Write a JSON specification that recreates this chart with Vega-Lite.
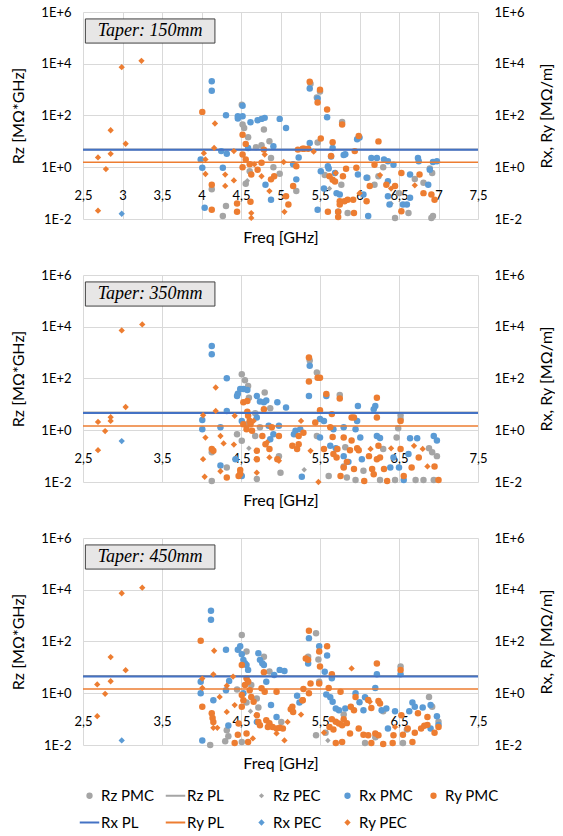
{
"$schema": "https://vega.github.io/schema/vega-lite/v6.json",
"padding": {"left": 10, "top": 6, "right": 0, "bottom": 0},
"background": "white",
"config": {
  "font": "Lato",
  "view": {"stroke": null},
  "axis": {"labelFont": "Lato", "titleFont": "Lato", "labelFontSize": 13, "titleFontSize": 16, "titleFontWeight": "normal", "labelColor": "#000000", "titleColor": "#000000", "domain": false, "ticks": false, "tickSize": 0, "gridColor": "#D9D9D9", "gridWidth": 1},
  "legend": {"orient": "none", "legendX": -1, "legendY": 776, "direction": "horizontal", "columns": 5, "gridAlign": "all", "columnPadding": 6, "rowPadding": 11, "labelFont": "Lato", "labelFontSize": 15, "labelColor": "#000000", "symbolOpacity": 1, "symbolSize": 380, "labelOffset": 4}
},
"datasets": {
"lines": [
{"p":1,"s":"Rz PL","v":4.9},{"p":1,"s":"Rx PL","v":4.7},{"p":1,"s":"Ry PL","v":1.55},
{"p":2,"s":"Rz PL","v":4.8},{"p":2,"s":"Rx PL","v":4.6},{"p":2,"s":"Ry PL","v":1.45},
{"p":3,"s":"Rz PL","v":4.6},{"p":3,"s":"Rx PL","v":4.45},{"p":3,"s":"Ry PL","v":1.45}
],
"pts": [
{"p":1,"s":"Rz PMC","f":4.51,"v":260},{"p":1,"s":"Rz PMC","f":4.52,"v":45},{"p":1,"s":"Rz PMC","f":4.54,"v":33},{"p":1,"s":"Rz PMC","f":4.59,"v":14.5},{"p":1,"s":"Rz PMC","f":4.79,"v":29},{"p":1,"s":"Rz PMC","f":4.86,"v":10.2},{"p":1,"s":"Rz PMC","f":4.76,"v":7.1},{"p":1,"s":"Rz PMC","f":4.69,"v":5.9},{"p":1,"s":"Rz PMC","f":4.88,"v":2.3},{"p":1,"s":"Rz PMC","f":4.91,"v":1.0},{"p":1,"s":"Rz PMC","f":4.99,"v":0.56},{"p":1,"s":"Rz PMC","f":4.56,"v":0.23},{"p":1,"s":"Rz PMC","f":4.13,"v":0.14},{"p":1,"s":"Rz PMC","f":4.31,"v":0.032},{"p":1,"s":"Rz PMC","f":4.27,"v":0.013},{"p":1,"s":"Rz PMC","f":5.2,"v":0.12},{"p":1,"s":"Rz PMC","f":4.61,"v":0.7},{"p":1,"s":"Rz PMC","f":5.38,"v":1700},{"p":1,"s":"Rz PMC","f":5.5,"v":850},{"p":1,"s":"Rz PMC","f":5.46,"v":500},{"p":1,"s":"Rz PMC","f":5.78,"v":56},{"p":1,"s":"Rz PMC","f":6.1,"v":0.39},{"p":1,"s":"Rz PMC","f":6.24,"v":0.45},{"p":1,"s":"Rz PMC","f":5.77,"v":0.21},{"p":1,"s":"Rz PMC","f":6.19,"v":0.21},{"p":1,"s":"Rz PMC","f":6.81,"v":0.25},{"p":1,"s":"Rz PMC","f":6.62,"v":0.017},{"p":1,"s":"Rz PMC","f":5.85,"v":0.017},{"p":1,"s":"Rz PMC","f":6.45,"v":0.011},{"p":1,"s":"Rz PMC","f":6.91,"v":0.011},{"p":1,"s":"Rz PMC","f":6.92,"v":0.6},{"p":1,"s":"Rz PMC","f":6.93,"v":0.013},{"p":1,"s":"Rz PMC","f":6.89,"v":0.9},{"p":1,"s":"Rz PMC","f":5.47,"v":9},{"p":1,"s":"Rz PMC","f":5.56,"v":0.5},{"p":1,"s":"Rz PMC","f":6.3,"v":1.0},{"p":1,"s":"Rz PMC","f":6.5,"v":0.1},{"p":1,"s":"Rz PMC","f":6.7,"v":0.35},
{"p":1,"s":"Rz PEC","f":4.58,"v":0.3},{"p":1,"s":"Rz PEC","f":5.62,"v":0.15},{"p":1,"s":"Rz PEC","f":6.4,"v":0.04},
{"p":1,"s":"Rx PMC","f":4.13,"v":2090},{"p":1,"s":"Rx PMC","f":4.13,"v":910},{"p":1,"s":"Rx PMC","f":4.31,"v":102},{"p":1,"s":"Rx PMC","f":4.46,"v":93},{"p":1,"s":"Rx PMC","f":4.46,"v":76},{"p":1,"s":"Rx PMC","f":4.52,"v":240},{"p":1,"s":"Rx PMC","f":4.52,"v":93},{"p":1,"s":"Rx PMC","f":4.62,"v":55},{"p":1,"s":"Rx PMC","f":4.71,"v":66},{"p":1,"s":"Rx PMC","f":4.76,"v":74},{"p":1,"s":"Rx PMC","f":4.8,"v":81},{"p":1,"s":"Rx PMC","f":4.99,"v":74},{"p":1,"s":"Rx PMC","f":5.07,"v":33},{"p":1,"s":"Rx PMC","f":3.99,"v":2.0},{"p":1,"s":"Rx PMC","f":4.01,"v":0.95},{"p":1,"s":"Rx PMC","f":4.25,"v":4.2},{"p":1,"s":"Rx PMC","f":4.32,"v":3.3},{"p":1,"s":"Rx PMC","f":4.27,"v":0.95},{"p":1,"s":"Rx PMC","f":4.04,"v":0.027},{"p":1,"s":"Rx PMC","f":4.59,"v":5.6},{"p":1,"s":"Rx PMC","f":4.91,"v":6.5},{"p":1,"s":"Rx PMC","f":4.81,"v":0.21},{"p":1,"s":"Rx PMC","f":4.88,"v":0.056},{"p":1,"s":"Rx PMC","f":5.16,"v":1.3},{"p":1,"s":"Rx PMC","f":5.2,"v":0.34},{"p":1,"s":"Rx PMC","f":5.23,"v":2.4},
{"p":1,"s":"Rx PMC","f":5.37,"v":1100},{"p":1,"s":"Rx PMC","f":5.47,"v":450},{"p":1,"s":"Rx PMC","f":5.59,"v":85},{"p":1,"s":"Rx PMC","f":5.97,"v":12},{"p":1,"s":"Rx PMC","f":6.0,"v":14},{"p":1,"s":"Rx PMC","f":5.37,"v":8.7},{"p":1,"s":"Rx PMC","f":5.66,"v":5.6},{"p":1,"s":"Rx PMC","f":5.64,"v":2.6},{"p":1,"s":"Rx PMC","f":5.82,"v":3.2},{"p":1,"s":"Rx PMC","f":5.8,"v":3.0},{"p":1,"s":"Rx PMC","f":6.15,"v":2.3},{"p":1,"s":"Rx PMC","f":6.22,"v":2.3},{"p":1,"s":"Rx PMC","f":6.31,"v":2.0},{"p":1,"s":"Rx PMC","f":6.36,"v":1.7},{"p":1,"s":"Rx PMC","f":6.43,"v":1.26},{"p":1,"s":"Rx PMC","f":6.74,"v":2.3},{"p":1,"s":"Rx PMC","f":6.75,"v":1.7},{"p":1,"s":"Rx PMC","f":6.89,"v":0.8},{"p":1,"s":"Rx PMC","f":5.6,"v":1.1},{"p":1,"s":"Rx PMC","f":5.61,"v":0.9},{"p":1,"s":"Rx PMC","f":5.69,"v":0.6},{"p":1,"s":"Rx PMC","f":5.98,"v":0.52},{"p":1,"s":"Rx PMC","f":6.09,"v":0.39},{"p":1,"s":"Rx PMC","f":6.36,"v":0.29},{"p":1,"s":"Rx PMC","f":6.64,"v":0.52},{"p":1,"s":"Rx PMC","f":6.87,"v":0.21},{"p":1,"s":"Rx PMC","f":5.71,"v":0.1},{"p":1,"s":"Rx PMC","f":5.75,"v":0.089},{"p":1,"s":"Rx PMC","f":6.05,"v":0.089},{"p":1,"s":"Rx PMC","f":6.36,"v":0.076},{"p":1,"s":"Rx PMC","f":6.38,"v":0.036},{"p":1,"s":"Rx PMC","f":6.55,"v":0.036},{"p":1,"s":"Rx PMC","f":6.6,"v":0.036},{"p":1,"s":"Rx PMC","f":6.64,"v":0.066},{"p":1,"s":"Rx PMC","f":5.47,"v":0.023},{"p":1,"s":"Rx PMC","f":5.73,"v":0.019},{"p":1,"s":"Rx PMC","f":6.11,"v":0.013},{"p":1,"s":"Rx PMC","f":6.98,"v":1.7},{"p":1,"s":"Rx PMC","f":6.93,"v":1.6},{"p":1,"s":"Rx PMC","f":5.51,"v":0.7},{"p":1,"s":"Rx PMC","f":5.55,"v":0.15},
{"p":1,"s":"Ry PMC","f":4.01,"v":138},{"p":1,"s":"Ry PMC","f":4.52,"v":18},{"p":1,"s":"Ry PMC","f":4.56,"v":8},{"p":1,"s":"Ry PMC","f":4.52,"v":3.1},{"p":1,"s":"Ry PMC","f":4.56,"v":2.0},{"p":1,"s":"Ry PMC","f":4.52,"v":1.0},{"p":1,"s":"Ry PMC","f":4.61,"v":1.3},{"p":1,"s":"Ry PMC","f":4.63,"v":0.52},{"p":1,"s":"Ry PMC","f":4.71,"v":0.8},{"p":1,"s":"Ry PMC","f":4.76,"v":1.5},{"p":1,"s":"Ry PMC","f":4.79,"v":4.8},{"p":1,"s":"Ry PMC","f":4.92,"v":0.45},{"p":1,"s":"Ry PMC","f":4.88,"v":0.34},{"p":1,"s":"Ry PMC","f":4.13,"v":0.21},{"p":1,"s":"Ry PMC","f":4.13,"v":0.023},{"p":1,"s":"Ry PMC","f":4.45,"v":0.04},{"p":1,"s":"Ry PMC","f":4.45,"v":0.019},{"p":1,"s":"Ry PMC","f":4.62,"v":0.046},{"p":1,"s":"Ry PMC","f":5.16,"v":0.19},{"p":1,"s":"Ry PMC","f":5.07,"v":0.076},{"p":1,"s":"Ry PMC","f":5.1,"v":0.036},{"p":1,"s":"Ry PMC","f":5.22,"v":4.8},{"p":1,"s":"Ry PMC","f":5.28,"v":5.2},
{"p":1,"s":"Ry PMC","f":5.37,"v":2000},{"p":1,"s":"Ry PMC","f":5.5,"v":1000},{"p":1,"s":"Ry PMC","f":5.47,"v":320},{"p":1,"s":"Ry PMC","f":5.59,"v":170},{"p":1,"s":"Ry PMC","f":5.78,"v":45},{"p":1,"s":"Ry PMC","f":5.99,"v":16},{"p":1,"s":"Ry PMC","f":6.24,"v":10},{"p":1,"s":"Ry PMC","f":5.51,"v":13},{"p":1,"s":"Ry PMC","f":5.3,"v":5.2},{"p":1,"s":"Ry PMC","f":5.35,"v":5.2},{"p":1,"s":"Ry PMC","f":5.66,"v":9.3},{"p":1,"s":"Ry PMC","f":5.64,"v":2.7},{"p":1,"s":"Ry PMC","f":5.94,"v":4.2},{"p":1,"s":"Ry PMC","f":5.2,"v":1.1},{"p":1,"s":"Ry PMC","f":6.19,"v":1.26},{"p":1,"s":"Ry PMC","f":5.83,"v":0.87},{"p":1,"s":"Ry PMC","f":5.96,"v":0.96},{"p":1,"s":"Ry PMC","f":5.62,"v":0.45},{"p":1,"s":"Ry PMC","f":5.66,"v":0.33},{"p":1,"s":"Ry PMC","f":5.69,"v":0.28},{"p":1,"s":"Ry PMC","f":5.79,"v":0.45},{"p":1,"s":"Ry PMC","f":6.13,"v":0.19},{"p":1,"s":"Ry PMC","f":6.34,"v":0.21},{"p":1,"s":"Ry PMC","f":6.45,"v":0.19},{"p":1,"s":"Ry PMC","f":5.81,"v":0.049},{"p":1,"s":"Ry PMC","f":5.85,"v":0.056},{"p":1,"s":"Ry PMC","f":5.92,"v":0.056},{"p":1,"s":"Ry PMC","f":5.75,"v":0.049},{"p":1,"s":"Ry PMC","f":5.75,"v":0.036},{"p":1,"s":"Ry PMC","f":6.09,"v":0.049},{"p":1,"s":"Ry PMC","f":6.53,"v":0.6},{"p":1,"s":"Ry PMC","f":6.76,"v":0.52},{"p":1,"s":"Ry PMC","f":6.53,"v":0.02},{"p":1,"s":"Ry PMC","f":6.81,"v":0.1},{"p":1,"s":"Ry PMC","f":6.91,"v":0.089},{"p":1,"s":"Ry PMC","f":5.6,"v":0.019},{"p":1,"s":"Ry PMC","f":5.73,"v":0.019},{"p":1,"s":"Ry PMC","f":5.73,"v":0.012},{"p":1,"s":"Ry PMC","f":5.93,"v":0.017},{"p":1,"s":"Ry PMC","f":6.95,"v":0.056},
{"p":1,"s":"Rx PEC","f":2.99,"v":0.016},
{"p":1,"s":"Ry PEC","f":2.69,"v":0.021},{"p":1,"s":"Ry PEC","f":2.69,"v":2.4},{"p":1,"s":"Ry PEC","f":2.79,"v":0.85},{"p":1,"s":"Ry PEC","f":2.85,"v":27},{"p":1,"s":"Ry PEC","f":2.85,"v":3.3},{"p":1,"s":"Ry PEC","f":2.99,"v":7400},{"p":1,"s":"Ry PEC","f":3.04,"v":8.1},{"p":1,"s":"Ry PEC","f":3.24,"v":13000},{"p":1,"s":"Ry PEC","f":4.17,"v":49},{"p":1,"s":"Ry PEC","f":4.16,"v":5.6},{"p":1,"s":"Ry PEC","f":4.03,"v":3.5},{"p":1,"s":"Ry PEC","f":4.05,"v":2.0},{"p":1,"s":"Ry PEC","f":4.05,"v":0.55},{"p":1,"s":"Ry PEC","f":4.41,"v":4.2},{"p":1,"s":"Ry PEC","f":4.3,"v":0.52},{"p":1,"s":"Ry PEC","f":4.3,"v":0.19},{"p":1,"s":"Ry PEC","f":4.41,"v":0.31},{"p":1,"s":"Ry PEC","f":4.63,"v":0.017},{"p":1,"s":"Ry PEC","f":4.63,"v":0.011},{"p":1,"s":"Ry PEC","f":4.86,"v":0.12},{"p":1,"s":"Ry PEC","f":5.04,"v":1.6},{"p":1,"s":"Ry PEC","f":4.8,"v":3.1},{"p":1,"s":"Ry PEC","f":5.05,"v":0.019},{"p":1,"s":"Ry PEC","f":4.67,"v":1.3},{"p":1,"s":"Ry PEC","f":4.76,"v":0.45},{"p":1,"s":"Ry PEC","f":5.42,"v":4.0},{"p":1,"s":"Ry PEC","f":5.7,"v":0.6},{"p":1,"s":"Ry PEC","f":6.26,"v":0.5},{"p":1,"s":"Ry PEC","f":6.4,"v":0.15},{"p":1,"s":"Ry PEC","f":6.7,"v":0.2},{"p":1,"s":"Ry PEC","f":6.0,"v":0.1},

{"p":2,"s":"Rz PMC","f":4.51,"v":145},{"p":2,"s":"Rz PMC","f":4.55,"v":85},{"p":2,"s":"Rz PMC","f":4.59,"v":51},{"p":2,"s":"Rz PMC","f":4.6,"v":18},{"p":2,"s":"Rz PMC","f":4.8,"v":29},{"p":2,"s":"Rz PMC","f":4.87,"v":7.1},{"p":2,"s":"Rz PMC","f":4.68,"v":4.5},{"p":2,"s":"Rz PMC","f":4.45,"v":0.7},{"p":2,"s":"Rz PMC","f":4.51,"v":0.39},{"p":2,"s":"Rz PMC","f":4.58,"v":1.7},{"p":2,"s":"Rz PMC","f":4.68,"v":0.6},{"p":2,"s":"Rz PMC","f":4.74,"v":1.3},{"p":2,"s":"Rz PMC","f":4.13,"v":0.14},{"p":2,"s":"Rz PMC","f":4.32,"v":0.036},{"p":2,"s":"Rz PMC","f":4.13,"v":0.011},{"p":2,"s":"Rz PMC","f":4.98,"v":0.1},{"p":2,"s":"Rz PMC","f":5.0,"v":0.023},{"p":2,"s":"Rz PMC","f":4.7,"v":0.013},{"p":2,"s":"Rz PMC","f":5.37,"v":500},{"p":2,"s":"Rz PMC","f":5.46,"v":170},{"p":2,"s":"Rz PMC","f":5.75,"v":23},{"p":2,"s":"Rz PMC","f":6.52,"v":3.8},{"p":2,"s":"Rz PMC","f":6.52,"v":2.7},{"p":2,"s":"Rz PMC","f":6.49,"v":1.2},{"p":2,"s":"Rz PMC","f":5.46,"v":0.6},{"p":2,"s":"Rz PMC","f":6.47,"v":0.52},{"p":2,"s":"Rz PMC","f":5.82,"v":0.22},{"p":2,"s":"Rz PMC","f":6.3,"v":0.19},{"p":2,"s":"Rz PMC","f":6.88,"v":0.2},{"p":2,"s":"Rz PMC","f":6.92,"v":0.14},{"p":2,"s":"Rz PMC","f":5.8,"v":0.04},{"p":2,"s":"Rz PMC","f":6.05,"v":0.027},{"p":2,"s":"Rz PMC","f":5.84,"v":0.015},{"p":2,"s":"Rz PMC","f":5.95,"v":0.012},{"p":2,"s":"Rz PMC","f":6.26,"v":0.012},{"p":2,"s":"Rz PMC","f":6.45,"v":0.012},{"p":2,"s":"Rz PMC","f":6.71,"v":0.012},{"p":2,"s":"Rz PMC","f":6.81,"v":0.012},{"p":2,"s":"Rz PMC","f":6.94,"v":0.012},{"p":2,"s":"Rz PMC","f":5.61,"v":0.017},{"p":2,"s":"Rz PMC","f":6.98,"v":0.1},
{"p":2,"s":"Rz PEC","f":5.3,"v":0.03},{"p":2,"s":"Rz PEC","f":4.6,"v":0.2},
{"p":2,"s":"Rx PMC","f":4.13,"v":1800},{"p":2,"s":"Rx PMC","f":4.13,"v":870},{"p":2,"s":"Rx PMC","f":4.32,"v":102},{"p":2,"s":"Rx PMC","f":4.45,"v":21},{"p":2,"s":"Rx PMC","f":4.49,"v":39},{"p":2,"s":"Rx PMC","f":4.53,"v":39},{"p":2,"s":"Rx PMC","f":4.58,"v":36},{"p":2,"s":"Rx PMC","f":4.46,"v":26},{"p":2,"s":"Rx PMC","f":4.7,"v":21},{"p":2,"s":"Rx PMC","f":4.74,"v":13},{"p":2,"s":"Rx PMC","f":4.79,"v":12},{"p":2,"s":"Rx PMC","f":4.82,"v":14},{"p":2,"s":"Rx PMC","f":4.96,"v":12},{"p":2,"s":"Rx PMC","f":5.07,"v":7.6},{"p":2,"s":"Rx PMC","f":4.32,"v":5.6},{"p":2,"s":"Rx PMC","f":4.01,"v":2.5},{"p":2,"s":"Rx PMC","f":4.01,"v":1.1},{"p":2,"s":"Rx PMC","f":4.24,"v":1.3},{"p":2,"s":"Rx PMC","f":4.51,"v":2.3},{"p":2,"s":"Rx PMC","f":4.7,"v":3.1},{"p":2,"s":"Rx PMC","f":4.85,"v":1.5},{"p":2,"s":"Rx PMC","f":4.87,"v":0.45},{"p":2,"s":"Rx PMC","f":4.98,"v":1.5},{"p":2,"s":"Rx PMC","f":5.17,"v":0.7},{"p":2,"s":"Rx PMC","f":5.19,"v":0.95},{"p":2,"s":"Rx PMC","f":4.91,"v":0.7},{"p":2,"s":"Rx PMC","f":4.24,"v":0.043},{"p":2,"s":"Rx PMC","f":4.51,"v":0.017},{"p":2,"s":"Rx PMC","f":4.43,"v":0.076},{"p":2,"s":"Rx PMC","f":5.27,"v":0.016},
{"p":2,"s":"Rx PMC","f":5.37,"v":310},{"p":2,"s":"Rx PMC","f":5.36,"v":21},{"p":2,"s":"Rx PMC","f":5.58,"v":21},{"p":2,"s":"Rx PMC","f":5.98,"v":8.7},{"p":2,"s":"Rx PMC","f":6.2,"v":8.7},{"p":2,"s":"Rx PMC","f":6.18,"v":6.5},{"p":2,"s":"Rx PMC","f":5.5,"v":2.7},{"p":2,"s":"Rx PMC","f":5.55,"v":2.3},{"p":2,"s":"Rx PMC","f":5.67,"v":1.1},{"p":2,"s":"Rx PMC","f":5.8,"v":1.3},{"p":2,"s":"Rx PMC","f":5.95,"v":1.1},{"p":2,"s":"Rx PMC","f":5.97,"v":2.3},{"p":2,"s":"Rx PMC","f":5.5,"v":0.52},{"p":2,"s":"Rx PMC","f":6.01,"v":0.52},{"p":2,"s":"Rx PMC","f":6.22,"v":0.6},{"p":2,"s":"Rx PMC","f":6.26,"v":0.5},{"p":2,"s":"Rx PMC","f":6.64,"v":0.49},{"p":2,"s":"Rx PMC","f":6.73,"v":0.49},{"p":2,"s":"Rx PMC","f":6.94,"v":0.6},{"p":2,"s":"Rx PMC","f":5.63,"v":0.25},{"p":2,"s":"Rx PMC","f":5.8,"v":0.1},{"p":2,"s":"Rx PMC","f":5.86,"v":0.06},{"p":2,"s":"Rx PMC","f":6.03,"v":0.076},{"p":2,"s":"Rx PMC","f":6.43,"v":0.089},{"p":2,"s":"Rx PMC","f":6.62,"v":0.12},{"p":2,"s":"Rx PMC","f":6.39,"v":0.036},{"p":2,"s":"Rx PMC","f":6.5,"v":0.036},{"p":2,"s":"Rx PMC","f":6.56,"v":0.012},{"p":2,"s":"Rx PMC","f":5.7,"v":0.2},{"p":2,"s":"Rx PMC","f":6.98,"v":0.4},{"p":2,"s":"Rx PMC","f":5.25,"v":1.1},
{"p":2,"s":"Ry PMC","f":4.53,"v":12},{"p":2,"s":"Ry PMC","f":4.58,"v":13.5},{"p":2,"s":"Ry PMC","f":4.58,"v":5.2},{"p":2,"s":"Ry PMC","f":4.59,"v":3.6},{"p":2,"s":"Ry PMC","f":4.61,"v":2.3},{"p":2,"s":"Ry PMC","f":4.62,"v":1.7},{"p":2,"s":"Ry PMC","f":4.79,"v":6.5},{"p":2,"s":"Ry PMC","f":4.53,"v":1.7},{"p":2,"s":"Ry PMC","f":4.57,"v":1.1},{"p":2,"s":"Ry PMC","f":4.64,"v":0.95},{"p":2,"s":"Ry PMC","f":4.77,"v":0.6},{"p":2,"s":"Ry PMC","f":4.81,"v":0.29},{"p":2,"s":"Ry PMC","f":4.89,"v":1.3},{"p":2,"s":"Ry PMC","f":4.98,"v":0.6},{"p":2,"s":"Ry PMC","f":4.86,"v":0.19},{"p":2,"s":"Ry PMC","f":4.7,"v":0.16},{"p":2,"s":"Ry PMC","f":4.7,"v":0.076},{"p":2,"s":"Ry PMC","f":4.13,"v":0.19},{"p":2,"s":"Ry PMC","f":4.15,"v":0.16},{"p":2,"s":"Ry PMC","f":4.49,"v":0.029},{"p":2,"s":"Ry PMC","f":4.49,"v":0.021},{"p":2,"s":"Ry PMC","f":4.32,"v":0.015},{"p":2,"s":"Ry PMC","f":4.47,"v":0.017},{"p":2,"s":"Ry PMC","f":4.96,"v":0.076},{"p":2,"s":"Ry PMC","f":5.15,"v":0.25},{"p":2,"s":"Ry PMC","f":5.21,"v":0.19},{"p":2,"s":"Ry PMC","f":5.29,"v":0.8},
{"p":2,"s":"Ry PMC","f":5.36,"v":650},{"p":2,"s":"Ry PMC","f":5.5,"v":107},{"p":2,"s":"Ry PMC","f":5.47,"v":107},{"p":2,"s":"Ry PMC","f":5.36,"v":76},{"p":2,"s":"Ry PMC","f":5.58,"v":25},{"p":2,"s":"Ry PMC","f":5.75,"v":17},{"p":2,"s":"Ry PMC","f":6.22,"v":18},{"p":2,"s":"Ry PMC","f":5.5,"v":5.9},{"p":2,"s":"Ry PMC","f":5.44,"v":2.0},{"p":2,"s":"Ry PMC","f":5.65,"v":4.2},{"p":2,"s":"Ry PMC","f":5.63,"v":1.3},{"p":2,"s":"Ry PMC","f":5.9,"v":3.1},{"p":2,"s":"Ry PMC","f":5.93,"v":3.1},{"p":2,"s":"Ry PMC","f":6.22,"v":3.1},{"p":2,"s":"Ry PMC","f":6.52,"v":2.3},{"p":2,"s":"Ry PMC","f":5.23,"v":0.6},{"p":2,"s":"Ry PMC","f":5.66,"v":0.55},{"p":2,"s":"Ry PMC","f":5.8,"v":0.52},{"p":2,"s":"Ry PMC","f":5.9,"v":0.4},{"p":2,"s":"Ry PMC","f":5.23,"v":0.29},{"p":2,"s":"Ry PMC","f":5.55,"v":0.19},{"p":2,"s":"Ry PMC","f":5.72,"v":0.19},{"p":2,"s":"Ry PMC","f":5.88,"v":0.17},{"p":2,"s":"Ry PMC","f":5.97,"v":0.2},{"p":2,"s":"Ry PMC","f":5.99,"v":0.17},{"p":2,"s":"Ry PMC","f":6.24,"v":0.25},{"p":2,"s":"Ry PMC","f":6.52,"v":0.19},{"p":2,"s":"Ry PMC","f":5.67,"v":0.12},{"p":2,"s":"Ry PMC","f":5.71,"v":0.089},{"p":2,"s":"Ry PMC","f":5.84,"v":0.06},{"p":2,"s":"Ry PMC","f":6.12,"v":0.1},{"p":2,"s":"Ry PMC","f":6.22,"v":0.076},{"p":2,"s":"Ry PMC","f":6.26,"v":0.089},{"p":2,"s":"Ry PMC","f":6.75,"v":0.089},{"p":2,"s":"Ry PMC","f":5.8,"v":0.036},{"p":2,"s":"Ry PMC","f":5.93,"v":0.032},{"p":2,"s":"Ry PMC","f":6.16,"v":0.032},{"p":2,"s":"Ry PMC","f":6.18,"v":0.02},{"p":2,"s":"Ry PMC","f":6.31,"v":0.032},{"p":2,"s":"Ry PMC","f":6.56,"v":0.017},{"p":2,"s":"Ry PMC","f":6.66,"v":0.036},{"p":2,"s":"Ry PMC","f":6.35,"v":0.011},{"p":2,"s":"Ry PMC","f":6.06,"v":0.011},{"p":2,"s":"Ry PMC","f":5.76,"v":0.017},{"p":2,"s":"Ry PMC","f":7.0,"v":0.012},{"p":2,"s":"Ry PMC","f":6.95,"v":0.04},
{"p":2,"s":"Rx PEC","f":2.99,"v":0.38},
{"p":2,"s":"Ry PEC","f":2.69,"v":2.1},{"p":2,"s":"Ry PEC","f":2.69,"v":0.17},{"p":2,"s":"Ry PEC","f":2.78,"v":0.93},{"p":2,"s":"Ry PEC","f":2.85,"v":3.2},{"p":2,"s":"Ry PEC","f":2.85,"v":2.3},{"p":2,"s":"Ry PEC","f":2.99,"v":7200},{"p":2,"s":"Ry PEC","f":3.04,"v":7.9},{"p":2,"s":"Ry PEC","f":3.25,"v":12300},{"p":2,"s":"Ry PEC","f":4.18,"v":45},{"p":2,"s":"Ry PEC","f":4.18,"v":5.6},{"p":2,"s":"Ry PEC","f":4.02,"v":3.8},{"p":2,"s":"Ry PEC","f":4.05,"v":0.52},{"p":2,"s":"Ry PEC","f":4.24,"v":0.6},{"p":2,"s":"Ry PEC","f":4.42,"v":3.6},{"p":2,"s":"Ry PEC","f":4.28,"v":0.31},{"p":2,"s":"Ry PEC","f":4.41,"v":0.28},{"p":2,"s":"Ry PEC","f":4.02,"v":0.076},{"p":2,"s":"Ry PEC","f":4.04,"v":0.016},{"p":2,"s":"Ry PEC","f":4.24,"v":0.026},{"p":2,"s":"Ry PEC","f":4.7,"v":0.023},{"p":2,"s":"Ry PEC","f":4.86,"v":0.089},{"p":2,"s":"Ry PEC","f":4.83,"v":0.34},{"p":2,"s":"Ry PEC","f":4.98,"v":0.066},{"p":2,"s":"Ry PEC","f":4.66,"v":2.3},{"p":2,"s":"Ry PEC","f":5.26,"v":2.3},{"p":2,"s":"Ry PEC","f":5.38,"v":0.16},{"p":2,"s":"Ry PEC","f":6.14,"v":0.19},{"p":2,"s":"Ry PEC","f":6.69,"v":0.25},{"p":2,"s":"Ry PEC","f":6.8,"v":0.19},{"p":2,"s":"Ry PEC","f":5.48,"v":0.01},{"p":2,"s":"Ry PEC","f":6.86,"v":0.04},{"p":2,"s":"Ry PEC","f":6.4,"v":0.2},

{"p":3,"s":"Rz PMC","f":4.51,"v":180},{"p":3,"s":"Rz PMC","f":4.57,"v":41},{"p":3,"s":"Rz PMC","f":4.79,"v":26},{"p":3,"s":"Rz PMC","f":4.86,"v":6.9},{"p":3,"s":"Rz PMC","f":4.45,"v":1.4},{"p":3,"s":"Rz PMC","f":4.59,"v":2.8},{"p":3,"s":"Rz PMC","f":4.63,"v":2.1},{"p":3,"s":"Rz PMC","f":4.7,"v":0.63},{"p":3,"s":"Rz PMC","f":4.72,"v":0.28},{"p":3,"s":"Rz PMC","f":4.57,"v":0.44},{"p":3,"s":"Rz PMC","f":4.32,"v":0.037},{"p":3,"s":"Rz PMC","f":4.34,"v":0.022},{"p":3,"s":"Rz PMC","f":4.11,"v":0.01},{"p":3,"s":"Rz PMC","f":4.3,"v":0.014},{"p":3,"s":"Rz PMC","f":5.01,"v":0.078},{"p":3,"s":"Rz PMC","f":4.51,"v":0.013},{"p":3,"s":"Rz PMC","f":5.45,"v":210},{"p":3,"s":"Rz PMC","f":5.48,"v":20},{"p":3,"s":"Rz PMC","f":5.35,"v":26},{"p":3,"s":"Rz PMC","f":5.49,"v":2.8},{"p":3,"s":"Rz PMC","f":6.52,"v":10.7},{"p":3,"s":"Rz PMC","f":6.88,"v":0.72},{"p":3,"s":"Rz PMC","f":5.45,"v":0.024},{"p":3,"s":"Rz PMC","f":5.57,"v":0.03},{"p":3,"s":"Rz PMC","f":6.07,"v":0.012},{"p":3,"s":"Rz PMC","f":6.55,"v":0.012},{"p":3,"s":"Rz PMC","f":6.3,"v":0.2},{"p":3,"s":"Rz PMC","f":6.2,"v":0.02},{"p":3,"s":"Rz PMC","f":7.0,"v":0.08},{"p":3,"s":"Rz PMC","f":6.92,"v":0.3},{"p":3,"s":"Rz PMC","f":5.8,"v":0.15},{"p":3,"s":"Rz PMC","f":6.6,"v":0.04},
{"p":3,"s":"Rz PEC","f":5.6,"v":0.015},{"p":3,"s":"Rz PEC","f":4.62,"v":0.2},
{"p":3,"s":"Rx PMC","f":4.12,"v":1550},{"p":3,"s":"Rx PMC","f":4.12,"v":690},{"p":3,"s":"Rx PMC","f":4.31,"v":48},{"p":3,"s":"Rx PMC","f":4.46,"v":48},{"p":3,"s":"Rx PMC","f":4.49,"v":65},{"p":3,"s":"Rx PMC","f":4.51,"v":32},{"p":3,"s":"Rx PMC","f":4.53,"v":19.5},{"p":3,"s":"Rx PMC","f":4.55,"v":14.5},{"p":3,"s":"Rx PMC","f":4.57,"v":12.3},{"p":3,"s":"Rx PMC","f":4.59,"v":8},{"p":3,"s":"Rx PMC","f":4.72,"v":35},{"p":3,"s":"Rx PMC","f":4.74,"v":19.5},{"p":3,"s":"Rx PMC","f":4.77,"v":14.5},{"p":3,"s":"Rx PMC","f":4.79,"v":12.3},{"p":3,"s":"Rx PMC","f":4.99,"v":8},{"p":3,"s":"Rx PMC","f":5.05,"v":7.2},{"p":3,"s":"Rx PMC","f":4.82,"v":2.8},{"p":3,"s":"Rx PMC","f":4.92,"v":5.1},{"p":3,"s":"Rx PMC","f":3.99,"v":2.8},{"p":3,"s":"Rx PMC","f":3.99,"v":1.0},{"p":3,"s":"Rx PMC","f":4.15,"v":0.54},{"p":3,"s":"Rx PMC","f":4.31,"v":1.3},{"p":3,"s":"Rx PMC","f":4.35,"v":3.0},{"p":3,"s":"Rx PMC","f":4.53,"v":1.0},{"p":3,"s":"Rx PMC","f":4.88,"v":0.35},{"p":3,"s":"Rx PMC","f":5.21,"v":0.8},{"p":3,"s":"Rx PMC","f":5.24,"v":0.44},{"p":3,"s":"Rx PMC","f":4.34,"v":0.057},{"p":3,"s":"Rx PMC","f":4.01,"v":0.015},{"p":3,"s":"Rx PMC","f":4.7,"v":0.078},{"p":3,"s":"Rx PMC","f":4.95,"v":0.12},
{"p":3,"s":"Rx PMC","f":5.36,"v":135},{"p":3,"s":"Rx PMC","f":5.49,"v":65},{"p":3,"s":"Rx PMC","f":5.59,"v":29},{"p":3,"s":"Rx PMC","f":5.35,"v":14},{"p":3,"s":"Rx PMC","f":5.56,"v":6.8},{"p":3,"s":"Rx PMC","f":5.65,"v":3.8},{"p":3,"s":"Rx PMC","f":6.22,"v":5.4},{"p":3,"s":"Rx PMC","f":6.52,"v":5.4},{"p":3,"s":"Rx PMC","f":6.2,"v":1.6},{"p":3,"s":"Rx PMC","f":5.95,"v":1.0},{"p":3,"s":"Rx PMC","f":6.07,"v":0.7},{"p":3,"s":"Rx PMC","f":6.67,"v":0.44},{"p":3,"s":"Rx PMC","f":6.7,"v":0.3},{"p":3,"s":"Rx PMC","f":6.8,"v":0.28},{"p":3,"s":"Rx PMC","f":6.9,"v":0.35},{"p":3,"s":"Rx PMC","f":5.63,"v":0.7},{"p":3,"s":"Rx PMC","f":5.66,"v":0.47},{"p":3,"s":"Rx PMC","f":5.7,"v":0.26},{"p":3,"s":"Rx PMC","f":5.74,"v":0.22},{"p":3,"s":"Rx PMC","f":5.82,"v":0.26},{"p":3,"s":"Rx PMC","f":6.05,"v":0.22},{"p":3,"s":"Rx PMC","f":6.28,"v":0.22},{"p":3,"s":"Rx PMC","f":6.34,"v":0.26},{"p":3,"s":"Rx PMC","f":6.45,"v":0.2},{"p":3,"s":"Rx PMC","f":6.63,"v":0.2},{"p":3,"s":"Rx PMC","f":6.36,"v":0.043},{"p":3,"s":"Rx PMC","f":6.9,"v":0.043},{"p":3,"s":"Rx PMC","f":7.0,"v":0.06},{"p":3,"s":"Rx PMC","f":6.98,"v":0.13},{"p":3,"s":"Rx PMC","f":5.58,"v":0.9},{"p":3,"s":"Rx PMC","f":6.0,"v":0.45},
{"p":3,"s":"Ry PMC","f":3.99,"v":107},{"p":3,"s":"Ry PMC","f":4.51,"v":12.3},{"p":3,"s":"Ry PMC","f":4.79,"v":6.5},{"p":3,"s":"Ry PMC","f":4.57,"v":3.8},{"p":3,"s":"Ry PMC","f":4.59,"v":2.8},{"p":3,"s":"Ry PMC","f":4.55,"v":2.1},{"p":3,"s":"Ry PMC","f":4.61,"v":1.3},{"p":3,"s":"Ry PMC","f":4.63,"v":0.72},{"p":3,"s":"Ry PMC","f":4.66,"v":0.47},{"p":3,"s":"Ry PMC","f":4.51,"v":0.85},{"p":3,"s":"Ry PMC","f":4.53,"v":0.54},{"p":3,"s":"Ry PMC","f":4.51,"v":0.3},{"p":3,"s":"Ry PMC","f":4.76,"v":1.55},{"p":3,"s":"Ry PMC","f":4.8,"v":1.15},{"p":3,"s":"Ry PMC","f":4.95,"v":1.15},{"p":3,"s":"Ry PMC","f":4.01,"v":0.3},{"p":3,"s":"Ry PMC","f":4.13,"v":0.17},{"p":3,"s":"Ry PMC","f":4.14,"v":0.11},{"p":3,"s":"Ry PMC","f":4.15,"v":0.078},{"p":3,"s":"Ry PMC","f":4.47,"v":0.068},{"p":3,"s":"Ry PMC","f":4.46,"v":0.025},{"p":3,"s":"Ry PMC","f":4.57,"v":0.028},{"p":3,"s":"Ry PMC","f":4.59,"v":0.013},{"p":3,"s":"Ry PMC","f":4.7,"v":0.14},{"p":3,"s":"Ry PMC","f":4.72,"v":0.078},{"p":3,"s":"Ry PMC","f":4.74,"v":0.058},{"p":3,"s":"Ry PMC","f":4.82,"v":0.09},{"p":3,"s":"Ry PMC","f":4.84,"v":0.05},{"p":3,"s":"Ry PMC","f":4.86,"v":0.07},{"p":3,"s":"Ry PMC","f":4.9,"v":0.05},{"p":3,"s":"Ry PMC","f":4.95,"v":0.043},{"p":3,"s":"Ry PMC","f":4.99,"v":0.046},{"p":3,"s":"Ry PMC","f":5.03,"v":0.043},{"p":3,"s":"Ry PMC","f":5.13,"v":0.24},{"p":3,"s":"Ry PMC","f":5.16,"v":0.19},{"p":3,"s":"Ry PMC","f":5.15,"v":0.3},{"p":3,"s":"Ry PMC","f":5.29,"v":1.45},{"p":3,"s":"Ry PMC","f":5.28,"v":0.54},{"p":3,"s":"Ry PMC","f":5.32,"v":22},{"p":3,"s":"Ry PMC","f":4.42,"v":0.012},
{"p":3,"s":"Ry PMC","f":5.36,"v":260},{"p":3,"s":"Ry PMC","f":5.49,"v":41},{"p":3,"s":"Ry PMC","f":5.59,"v":65},{"p":3,"s":"Ry PMC","f":5.35,"v":19.5},{"p":3,"s":"Ry PMC","f":5.5,"v":10.7},{"p":3,"s":"Ry PMC","f":5.65,"v":5.4},{"p":3,"s":"Ry PMC","f":6.22,"v":14},{"p":3,"s":"Ry PMC","f":6.52,"v":8},{"p":3,"s":"Ry PMC","f":5.38,"v":2.4},{"p":3,"s":"Ry PMC","f":5.36,"v":1.0},{"p":3,"s":"Ry PMC","f":5.49,"v":2.4},{"p":3,"s":"Ry PMC","f":5.61,"v":1.6},{"p":3,"s":"Ry PMC","f":5.76,"v":1.15},{"p":3,"s":"Ry PMC","f":5.95,"v":0.72},{"p":3,"s":"Ry PMC","f":6.11,"v":0.55},{"p":3,"s":"Ry PMC","f":6.24,"v":0.5},{"p":3,"s":"Ry PMC","f":6.26,"v":0.4},{"p":3,"s":"Ry PMC","f":5.28,"v":0.54},{"p":3,"s":"Ry PMC","f":5.89,"v":0.3},{"p":3,"s":"Ry PMC","f":5.93,"v":0.22},{"p":3,"s":"Ry PMC","f":6.15,"v":0.27},{"p":3,"s":"Ry PMC","f":6.53,"v":0.14},{"p":3,"s":"Ry PMC","f":6.74,"v":0.17},{"p":3,"s":"Ry PMC","f":6.86,"v":0.12},{"p":3,"s":"Ry PMC","f":5.65,"v":0.1},{"p":3,"s":"Ry PMC","f":5.7,"v":0.079},{"p":3,"s":"Ry PMC","f":5.74,"v":0.068},{"p":3,"s":"Ry PMC","f":5.78,"v":0.058},{"p":3,"s":"Ry PMC","f":5.62,"v":0.05},{"p":3,"s":"Ry PMC","f":5.67,"v":0.04},{"p":3,"s":"Ry PMC","f":5.8,"v":0.1},{"p":3,"s":"Ry PMC","f":5.84,"v":0.07},{"p":3,"s":"Ry PMC","f":5.88,"v":0.028},{"p":3,"s":"Ry PMC","f":5.99,"v":0.043},{"p":3,"s":"Ry PMC","f":6.05,"v":0.025},{"p":3,"s":"Ry PMC","f":6.11,"v":0.024},{"p":3,"s":"Ry PMC","f":6.2,"v":0.028},{"p":3,"s":"Ry PMC","f":6.24,"v":0.024},{"p":3,"s":"Ry PMC","f":6.43,"v":0.024},{"p":3,"s":"Ry PMC","f":6.55,"v":0.025},{"p":3,"s":"Ry PMC","f":6.61,"v":0.043},{"p":3,"s":"Ry PMC","f":6.7,"v":0.03},{"p":3,"s":"Ry PMC","f":6.78,"v":0.043},{"p":3,"s":"Ry PMC","f":6.82,"v":0.055},{"p":3,"s":"Ry PMC","f":6.86,"v":0.06},{"p":3,"s":"Ry PMC","f":5.7,"v":0.012},{"p":3,"s":"Ry PMC","f":5.78,"v":0.013},{"p":3,"s":"Ry PMC","f":6.15,"v":0.012},{"p":3,"s":"Ry PMC","f":6.3,"v":0.011},{"p":3,"s":"Ry PMC","f":6.42,"v":0.012},{"p":3,"s":"Ry PMC","f":6.67,"v":0.013},{"p":3,"s":"Ry PMC","f":6.95,"v":0.03},{"p":3,"s":"Ry PMC","f":7.0,"v":0.05},
{"p":3,"s":"Rx PEC","f":2.99,"v":0.015},
{"p":3,"s":"Ry PEC","f":2.68,"v":2.2},{"p":3,"s":"Ry PEC","f":2.68,"v":0.13},{"p":3,"s":"Ry PEC","f":2.78,"v":0.95},{"p":3,"s":"Ry PEC","f":2.85,"v":25},{"p":3,"s":"Ry PEC","f":2.85,"v":2.9},{"p":3,"s":"Ry PEC","f":2.99,"v":7300},{"p":3,"s":"Ry PEC","f":3.04,"v":7.8},{"p":3,"s":"Ry PEC","f":3.25,"v":12000},{"p":3,"s":"Ry PEC","f":4.16,"v":44},{"p":3,"s":"Ry PEC","f":4.15,"v":5.4},{"p":3,"s":"Ry PEC","f":4.01,"v":3.7},{"p":3,"s":"Ry PEC","f":4.01,"v":1.6},{"p":3,"s":"Ry PEC","f":4.4,"v":4.4},{"p":3,"s":"Ry PEC","f":4.32,"v":1.95},{"p":3,"s":"Ry PEC","f":4.23,"v":0.72},{"p":3,"s":"Ry PEC","f":4.32,"v":0.19},{"p":3,"s":"Ry PEC","f":4.42,"v":0.35},{"p":3,"s":"Ry PEC","f":4.2,"v":0.046},{"p":3,"s":"Ry PEC","f":4.15,"v":0.046},{"p":3,"s":"Ry PEC","f":5.05,"v":0.015},{"p":3,"s":"Ry PEC","f":4.95,"v":0.028},{"p":3,"s":"Ry PEC","f":4.65,"v":0.018},{"p":3,"s":"Ry PEC","f":5.09,"v":0.078},{"p":3,"s":"Ry PEC","f":5.9,"v":9.1},{"p":3,"s":"Ry PEC","f":6.13,"v":0.47},{"p":3,"s":"Ry PEC","f":5.26,"v":0.15},{"p":3,"s":"Ry PEC","f":5.55,"v":0.03},{"p":3,"s":"Ry PEC","f":6.45,"v":0.05}
]
},
"vconcat": [
{
 "width": 395, "height": 207,
 "layer": [
  {"layer": [
   {"data": {"name": "pts"}, "transform": [{"filter": "datum.p == 1 && datum.s == 'Rz PMC'"}], "mark": {"type": "point", "filled": true, "opacity": 1, "size": 42},
    "encoding": {
     "x": {"field": "f", "type": "quantitative", "title": "Freq [GHz]", "scale": {"domain": [2.5, 7.5], "nice": false, "zero": false}, "axis": {"values": [2.5,3,3.5,4,4.5,5,5.5,6,6.5,7,7.5], "labelExpr": "replace(format(datum.value, '.1~f'), '.', ',')", "labelOverlap": false, "labelFlush": false, "offset": -32, "labelPadding": 2, "titlePadding": 27, "grid": true}},
     "y": {"field": "v", "type": "quantitative", "title": "Rz [MΩ*GHz]", "scale": {"type": "log", "domain": [0.01, 1000000], "nice": false}, "axis": {"orient": "left", "values": [0.01,1,100,10000,1000000], "labelExpr": "'1E' + (datum.value >= 1 ? '+' : '') + round(log(datum.value) / LN10)", "grid": true, "labelPadding": 12, "titlePadding": 14}},
     "color": {"field": "s", "type": "nominal", "title": null, "scale": {"domain": ["Rz PMC","Rz PL","Rz PEC","Rx PMC","Ry PMC","Rx PL","Ry PL","Rx PEC","Ry PEC"], "range": ["#A5A5A5","#A5A5A5","#A5A5A5","#5B9BD5","#ED7D31","#4472C4","#ED7D31","#5B9BD5","#ED7D31"]}, "legend": {"encode": {"symbols": {"update": {"stroke": {"scale": "color", "field": "value"}, "strokeWidth": {"signal": "indexof(['Rz PL','Rx PL','Ry PL'], datum.value) >= 0 ? 2 : 0"}, "size": {"signal": "indexof(['Rz PL','Rx PL','Ry PL'], datum.value) >= 0 ? 380 : (datum.value == 'Rz PEC' ? 26 : 40)"}}}}}},
     "shape": {"field": "s", "type": "nominal", "title": null, "scale": {"domain": ["Rz PMC","Rz PL","Rz PEC","Rx PMC","Ry PMC","Rx PL","Ry PL","Rx PEC","Ry PEC"], "range": ["circle","stroke","diamond","circle","circle","stroke","stroke","diamond","diamond"]}}
    }},
   {"data": {"name": "lines"}, "transform": [{"filter": "datum.p == 1 && datum.s == 'Rz PL'"}], "mark": {"type": "rule", "color": "#A5A5A5", "strokeWidth": 2},
    "encoding": {"y": {"field": "v", "type": "quantitative", "title": "Rz [MΩ*GHz]"}}},
   {"data": {"name": "pts"}, "transform": [{"filter": "datum.p == 1 && datum.s == 'Rz PEC'"}], "mark": {"type": "point", "filled": true, "opacity": 1, "size": 30},
    "encoding": {
     "x": {"field": "f", "type": "quantitative", "title": "Freq [GHz]", "axis": {"values": [2.5,3,3.5,4,4.5,5,5.5,6,6.5,7,7.5], "labelExpr": "replace(format(datum.value, '.1~f'), '.', ',')", "labelOverlap": false, "labelFlush": false, "offset": -32, "labelPadding": 2, "titlePadding": 27, "grid": true}},
     "y": {"field": "v", "type": "quantitative", "title": "Rz [MΩ*GHz]"},
     "color": {"field": "s", "type": "nominal", "title": null},
     "shape": {"field": "s", "type": "nominal", "title": null}
    }},
   {"data": {"values": [{"t": "Taper: 150mm"}]}, "mark": {"type": "rect", "fill": "#E7E6E6", "stroke": "#404040", "strokeWidth": 1},
    "encoding": {"x": {"datum": 2.53, "type": "quantitative", "title": "Freq [GHz]", "axis": {"values": [2.5,3,3.5,4,4.5,5,5.5,6,6.5,7,7.5], "labelExpr": "replace(format(datum.value, '.1~f'), '.', ',')", "labelOverlap": false, "labelFlush": false, "offset": -32, "labelPadding": 2, "titlePadding": 27, "grid": true}}, "x2": {"datum": 4.17}, "y": {"datum": 540000, "type": "quantitative", "title": "Rz [MΩ*GHz]"}, "y2": {"datum": 63000}}},
   {"data": {"values": [{"t": "Taper: 150mm"}]}, "mark": {"type": "text", "font": "Liberation Serif", "fontStyle": "italic", "fontSize": 18, "color": "#000000", "align": "center", "baseline": "middle"},
    "encoding": {"x": {"datum": 3.35, "type": "quantitative", "title": "Freq [GHz]", "axis": {"values": [2.5,3,3.5,4,4.5,5,5.5,6,6.5,7,7.5], "labelExpr": "replace(format(datum.value, '.1~f'), '.', ',')", "labelOverlap": false, "labelFlush": false, "offset": -32, "labelPadding": 2, "titlePadding": 27, "grid": true}}, "y": {"datum": 185000, "type": "quantitative", "title": "Rz [MΩ*GHz]"}, "text": {"field": "t"}}}
  ]},
  {"layer": [
   {"data": {"name": "pts"}, "transform": [{"filter": "datum.p == 1 && (datum.s == 'Rx PMC' || datum.s == 'Ry PMC')"}], "mark": {"type": "point", "filled": true, "opacity": 1, "size": 42},
    "encoding": {
     "x": {"field": "f", "type": "quantitative", "title": "Freq [GHz]", "axis": {"values": [2.5,3,3.5,4,4.5,5,5.5,6,6.5,7,7.5], "labelExpr": "replace(format(datum.value, '.1~f'), '.', ',')", "labelOverlap": false, "labelFlush": false, "offset": -32, "labelPadding": 2, "titlePadding": 27, "grid": true}},
     "y": {"field": "v", "type": "quantitative", "title": "Rx, Ry [MΩ/m]", "scale": {"type": "log", "domain": [0.01, 1000000], "nice": false}, "axis": {"orient": "right", "values": [0.01,1,100,10000,1000000], "labelExpr": "'1E' + (datum.value >= 1 ? '+' : '') + round(log(datum.value) / LN10)", "grid": false, "labelPadding": 16, "titlePadding": 14, "titleAngle": 270, "titleBaseline": "top"}},
     "color": {"field": "s", "type": "nominal", "title": null},
     "shape": {"field": "s", "type": "nominal", "title": null}
    }},
   {"data": {"name": "lines"}, "transform": [{"filter": "datum.p == 1 && datum.s == 'Rx PL'"}], "mark": {"type": "rule", "color": "#4472C4", "strokeWidth": 2},
    "encoding": {"y": {"field": "v", "type": "quantitative", "title": "Rx, Ry [MΩ/m]"}}},
   {"data": {"name": "lines"}, "transform": [{"filter": "datum.p == 1 && datum.s == 'Ry PL'"}], "mark": {"type": "rule", "color": "#ED7D31", "strokeWidth": 1.5},
    "encoding": {"y": {"field": "v", "type": "quantitative", "title": "Rx, Ry [MΩ/m]"}}},
   {"data": {"name": "pts"}, "transform": [{"filter": "datum.p == 1 && (datum.s == 'Rx PEC' || datum.s == 'Ry PEC')"}], "mark": {"type": "point", "filled": true, "opacity": 1, "size": 40},
    "encoding": {
     "x": {"field": "f", "type": "quantitative", "title": "Freq [GHz]", "axis": {"values": [2.5,3,3.5,4,4.5,5,5.5,6,6.5,7,7.5], "labelExpr": "replace(format(datum.value, '.1~f'), '.', ',')", "labelOverlap": false, "labelFlush": false, "offset": -32, "labelPadding": 2, "titlePadding": 27, "grid": true}},
     "y": {"field": "v", "type": "quantitative", "title": "Rx, Ry [MΩ/m]"},
     "color": {"field": "s", "type": "nominal", "title": null},
     "shape": {"field": "s", "type": "nominal", "title": null}
    }}
  ]}
 ],
 "resolve": {"scale": {"y": "independent"}}
},
{
 "width": 395, "height": 207,
 "layer": [
  {"layer": [
   {"data": {"name": "pts"}, "transform": [{"filter": "datum.p == 2 && datum.s == 'Rz PMC'"}], "mark": {"type": "point", "filled": true, "opacity": 1, "size": 42},
    "encoding": {
     "x": {"field": "f", "type": "quantitative", "title": "Freq [GHz]", "scale": {"domain": [2.5, 7.5], "nice": false, "zero": false}, "axis": {"values": [2.5,3.5,4.5,5.5,6.5,7.5], "labelExpr": "replace(format(datum.value, '.1~f'), '.', ',')", "labelOverlap": false, "labelFlush": false, "offset": -32, "labelPadding": 2, "titlePadding": 27, "grid": true}},
     "y": {"field": "v", "type": "quantitative", "title": "Rz [MΩ*GHz]", "scale": {"type": "log", "domain": [0.01, 1000000], "nice": false}, "axis": {"orient": "left", "values": [0.01,1,100,10000,1000000], "labelExpr": "'1E' + (datum.value >= 1 ? '+' : '') + round(log(datum.value) / LN10)", "grid": true, "labelPadding": 12, "titlePadding": 14}},
     "color": {"field": "s", "type": "nominal", "title": null},
     "shape": {"field": "s", "type": "nominal", "title": null}
    }},
   {"data": {"name": "lines"}, "transform": [{"filter": "datum.p == 2 && datum.s == 'Rz PL'"}], "mark": {"type": "rule", "color": "#A5A5A5", "strokeWidth": 2},
    "encoding": {"y": {"field": "v", "type": "quantitative", "title": "Rz [MΩ*GHz]"}}},
   {"data": {"name": "pts"}, "transform": [{"filter": "datum.p == 2 && datum.s == 'Rz PEC'"}], "mark": {"type": "point", "filled": true, "opacity": 1, "size": 30},
    "encoding": {
     "x": {"field": "f", "type": "quantitative", "title": "Freq [GHz]"},
     "y": {"field": "v", "type": "quantitative", "title": "Rz [MΩ*GHz]"},
     "color": {"field": "s", "type": "nominal", "title": null},
     "shape": {"field": "s", "type": "nominal", "title": null}
    }},
   {"data": {"values": [{"t": "Taper: 350mm"}]}, "mark": {"type": "rect", "fill": "#E7E6E6", "stroke": "#404040", "strokeWidth": 1},
    "encoding": {"x": {"datum": 2.53, "type": "quantitative", "title": "Freq [GHz]"}, "x2": {"datum": 4.17}, "y": {"datum": 540000, "type": "quantitative", "title": "Rz [MΩ*GHz]"}, "y2": {"datum": 63000}}},
   {"data": {"values": [{"t": "Taper: 350mm"}]}, "mark": {"type": "text", "font": "Liberation Serif", "fontStyle": "italic", "fontSize": 18, "color": "#000000", "align": "center", "baseline": "middle"},
    "encoding": {"x": {"datum": 3.35, "type": "quantitative", "title": "Freq [GHz]"}, "y": {"datum": 185000, "type": "quantitative", "title": "Rz [MΩ*GHz]"}, "text": {"field": "t"}}}
  ]},
  {"layer": [
   {"data": {"name": "pts"}, "transform": [{"filter": "datum.p == 2 && (datum.s == 'Rx PMC' || datum.s == 'Ry PMC')"}], "mark": {"type": "point", "filled": true, "opacity": 1, "size": 42},
    "encoding": {
     "x": {"field": "f", "type": "quantitative", "title": "Freq [GHz]"},
     "y": {"field": "v", "type": "quantitative", "title": "Rx, Ry [MΩ/m]", "scale": {"type": "log", "domain": [0.01, 1000000], "nice": false}, "axis": {"orient": "right", "values": [0.01,1,100,10000,1000000], "labelExpr": "'1E' + (datum.value >= 1 ? '+' : '') + round(log(datum.value) / LN10)", "grid": false, "labelPadding": 16, "titlePadding": 14, "titleAngle": 270, "titleBaseline": "top"}},
     "color": {"field": "s", "type": "nominal", "title": null},
     "shape": {"field": "s", "type": "nominal", "title": null}
    }},
   {"data": {"name": "lines"}, "transform": [{"filter": "datum.p == 2 && datum.s == 'Rx PL'"}], "mark": {"type": "rule", "color": "#4472C4", "strokeWidth": 2},
    "encoding": {"y": {"field": "v", "type": "quantitative", "title": "Rx, Ry [MΩ/m]"}}},
   {"data": {"name": "lines"}, "transform": [{"filter": "datum.p == 2 && datum.s == 'Ry PL'"}], "mark": {"type": "rule", "color": "#ED7D31", "strokeWidth": 1.5},
    "encoding": {"y": {"field": "v", "type": "quantitative", "title": "Rx, Ry [MΩ/m]"}}},
   {"data": {"name": "pts"}, "transform": [{"filter": "datum.p == 2 && (datum.s == 'Rx PEC' || datum.s == 'Ry PEC')"}], "mark": {"type": "point", "filled": true, "opacity": 1, "size": 40},
    "encoding": {
     "x": {"field": "f", "type": "quantitative", "title": "Freq [GHz]"},
     "y": {"field": "v", "type": "quantitative", "title": "Rx, Ry [MΩ/m]"},
     "color": {"field": "s", "type": "nominal", "title": null},
     "shape": {"field": "s", "type": "nominal", "title": null}
    }}
  ]}
 ],
 "resolve": {"scale": {"y": "independent"}}
},
{
 "width": 395, "height": 207,
 "layer": [
  {"layer": [
   {"data": {"name": "pts"}, "transform": [{"filter": "datum.p == 3 && datum.s == 'Rz PMC'"}], "mark": {"type": "point", "filled": true, "opacity": 1, "size": 42},
    "encoding": {
     "x": {"field": "f", "type": "quantitative", "title": "Freq [GHz]", "scale": {"domain": [2.5, 7.5], "nice": false, "zero": false}, "axis": {"values": [2.5,3.5,4.5,5.5,6.5,7.5], "labelExpr": "replace(format(datum.value, '.1~f'), '.', ',')", "labelOverlap": false, "labelFlush": false, "offset": -32, "labelPadding": 2, "titlePadding": 27, "grid": true}},
     "y": {"field": "v", "type": "quantitative", "title": "Rz [MΩ*GHz]", "scale": {"type": "log", "domain": [0.01, 1000000], "nice": false}, "axis": {"orient": "left", "values": [0.01,1,100,10000,1000000], "labelExpr": "'1E' + (datum.value >= 1 ? '+' : '') + round(log(datum.value) / LN10)", "grid": true, "labelPadding": 12, "titlePadding": 14}},
     "color": {"field": "s", "type": "nominal", "title": null},
     "shape": {"field": "s", "type": "nominal", "title": null}
    }},
   {"data": {"name": "lines"}, "transform": [{"filter": "datum.p == 3 && datum.s == 'Rz PL'"}], "mark": {"type": "rule", "color": "#A5A5A5", "strokeWidth": 2},
    "encoding": {"y": {"field": "v", "type": "quantitative", "title": "Rz [MΩ*GHz]"}}},
   {"data": {"name": "pts"}, "transform": [{"filter": "datum.p == 3 && datum.s == 'Rz PEC'"}], "mark": {"type": "point", "filled": true, "opacity": 1, "size": 30},
    "encoding": {
     "x": {"field": "f", "type": "quantitative", "title": "Freq [GHz]"},
     "y": {"field": "v", "type": "quantitative", "title": "Rz [MΩ*GHz]"},
     "color": {"field": "s", "type": "nominal", "title": null},
     "shape": {"field": "s", "type": "nominal", "title": null}
    }},
   {"data": {"values": [{"t": "Taper: 450mm"}]}, "mark": {"type": "rect", "fill": "#E7E6E6", "stroke": "#404040", "strokeWidth": 1},
    "encoding": {"x": {"datum": 2.53, "type": "quantitative", "title": "Freq [GHz]"}, "x2": {"datum": 4.17}, "y": {"datum": 540000, "type": "quantitative", "title": "Rz [MΩ*GHz]"}, "y2": {"datum": 63000}}},
   {"data": {"values": [{"t": "Taper: 450mm"}]}, "mark": {"type": "text", "font": "Liberation Serif", "fontStyle": "italic", "fontSize": 18, "color": "#000000", "align": "center", "baseline": "middle"},
    "encoding": {"x": {"datum": 3.35, "type": "quantitative", "title": "Freq [GHz]"}, "y": {"datum": 185000, "type": "quantitative", "title": "Rz [MΩ*GHz]"}, "text": {"field": "t"}}}
  ]},
  {"layer": [
   {"data": {"name": "pts"}, "transform": [{"filter": "datum.p == 3 && (datum.s == 'Rx PMC' || datum.s == 'Ry PMC')"}], "mark": {"type": "point", "filled": true, "opacity": 1, "size": 42},
    "encoding": {
     "x": {"field": "f", "type": "quantitative", "title": "Freq [GHz]"},
     "y": {"field": "v", "type": "quantitative", "title": "Rx, Ry [MΩ/m]", "scale": {"type": "log", "domain": [0.01, 1000000], "nice": false}, "axis": {"orient": "right", "values": [0.01,1,100,10000,1000000], "labelExpr": "'1E' + (datum.value >= 1 ? '+' : '') + round(log(datum.value) / LN10)", "grid": false, "labelPadding": 16, "titlePadding": 14, "titleAngle": 270, "titleBaseline": "top"}},
     "color": {"field": "s", "type": "nominal", "title": null},
     "shape": {"field": "s", "type": "nominal", "title": null}
    }},
   {"data": {"name": "lines"}, "transform": [{"filter": "datum.p == 3 && datum.s == 'Rx PL'"}], "mark": {"type": "rule", "color": "#4472C4", "strokeWidth": 2},
    "encoding": {"y": {"field": "v", "type": "quantitative", "title": "Rx, Ry [MΩ/m]"}}},
   {"data": {"name": "lines"}, "transform": [{"filter": "datum.p == 3 && datum.s == 'Ry PL'"}], "mark": {"type": "rule", "color": "#ED7D31", "strokeWidth": 1.5},
    "encoding": {"y": {"field": "v", "type": "quantitative", "title": "Rx, Ry [MΩ/m]"}}},
   {"data": {"name": "pts"}, "transform": [{"filter": "datum.p == 3 && (datum.s == 'Rx PEC' || datum.s == 'Ry PEC')"}], "mark": {"type": "point", "filled": true, "opacity": 1, "size": 40},
    "encoding": {
     "x": {"field": "f", "type": "quantitative", "title": "Freq [GHz]"},
     "y": {"field": "v", "type": "quantitative", "title": "Rx, Ry [MΩ/m]"},
     "color": {"field": "s", "type": "nominal", "title": null},
     "shape": {"field": "s", "type": "nominal", "title": null}
    }}
  ]}
 ],
 "resolve": {"scale": {"y": "independent"}}
}
],
"resolve": {"scale": {"x": "independent"}, "axis": {"x": "independent"}},
"spacing": 24
}
